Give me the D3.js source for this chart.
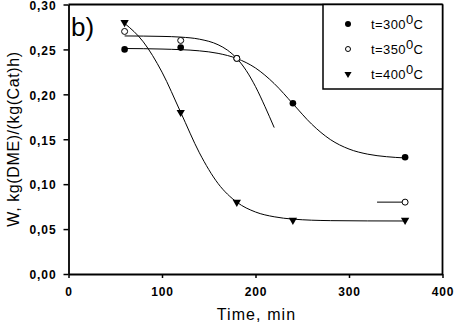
<!DOCTYPE html>
<html>
<head>
<meta charset="utf-8">
<script src="https://cdn.jsdelivr.net/npm/d3@7"></script>
<style>
  body { margin: 0; background: #fff; }
  text { font-family: "Liberation Sans", Arial, sans-serif; fill: #000; }
</style>
</head>
<body>
<div id="chart"></div>
<script>
// measured points
var times = [60, 120, 180, 240, 360];
var w300 = [0.25, 0.252, 0.24, 0.19, 0.13];
var t350 = [60, 120, 180, 360];
var w350 = [0.27, 0.26, 0.24, 0.08];
var w400 = [0.28, 0.18, 0.08, 0.06, 0.06];

// fitted curves
var fit300x = [60, 100, 140, 160, 180, 200, 220, 240, 260, 280, 300, 320, 340, 360];
var fit300y = [0.251, 0.2504, 0.2484, 0.2456, 0.2399, 0.2293, 0.212, 0.1895, 0.1669, 0.1497, 0.1391, 0.1334, 0.1306, 0.1292];
var fit350x = [60, 100, 120, 140, 160, 170, 180, 190, 200, 210, 220];
var fit350y = [0.265, 0.2645, 0.2637, 0.2614, 0.2552, 0.2492, 0.240, 0.2266, 0.2086, 0.1867, 0.163];
var fit400x = [60, 80, 100, 120, 140, 160, 180, 200, 220, 240, 280, 320, 360];
var fit400y = [0.279, 0.2584, 0.2247, 0.180, 0.1349, 0.1007, 0.080, 0.069, 0.0637, 0.0611, 0.0594, 0.0591, 0.059];
var seg350x = [330, 360];
var seg350y = [0.08, 0.08];

var xTicks = [0, 100, 200, 300, 400];
var yTicks = [0, 0.05, 0.10, 0.15, 0.20, 0.25, 0.30];
var legendLabels = ["t=300", "t=350", "t=400"];

var width = 455, height = 332;
var margin = {top: 4.5, right: 12.5, bottom: 58, left: 68.5};

var svg = d3.select("#chart").append("svg")
    .attr("width", width)
    .attr("height", height);

var x = d3.scaleLinear().domain([0, 400]).range([margin.left, width - margin.right]);
var y = d3.scaleLinear().domain([0, 0.3]).range([height - margin.bottom, margin.top]);

var comma = function(d) { return d3.format(".2f")(d).replace(".", ","); };

// axes
var xAxis = svg.append("g")
    .attr("transform", "translate(0," + y(0) + ")")
    .call(d3.axisBottom(x).tickValues(xTicks).tickSize(4).tickSizeOuter(0).tickPadding(9));
var yAxis = svg.append("g")
    .attr("transform", "translate(" + x(0) + ",0)")
    .call(d3.axisLeft(y).tickValues(yTicks).tickFormat(comma).tickSize(5).tickSizeOuter(0).tickPadding(7));

[xAxis, yAxis].forEach(function(a) {
    a.select(".domain").attr("stroke", "#000").attr("stroke-width", 1.8);
    a.selectAll(".tick line").attr("stroke", "#000").attr("stroke-width", 1.5);
    a.selectAll(".tick text")
        .style("font-family", "'Liberation Sans', Arial, sans-serif")
        .style("font-size", "12px")
        .style("font-weight", "bold")
        .style("letter-spacing", "0.9px")
        .attr("fill", "#000");
});
yAxis.selectAll(".tick text").attr("dy", "0.4em");

// top and right frame
svg.append("line")
    .attr("x1", x(0)).attr("x2", x(400))
    .attr("y1", y(0.3)).attr("y2", y(0.3))
    .attr("stroke", "#000").attr("stroke-width", 1.8);
svg.append("line")
    .attr("x1", x(400)).attr("x2", x(400))
    .attr("y1", y(0.3)).attr("y2", y(0))
    .attr("stroke", "#000").attr("stroke-width", 1.8);

// curves
var line = d3.line()
    .x(function(d) { return x(d[0]); })
    .y(function(d) { return y(d[1]); })
    .curve(d3.curveMonotoneX);

var curves = [
    d3.zip(fit300x, fit300y),
    d3.zip(fit350x, fit350y),
    d3.zip(fit400x, fit400y),
    d3.zip(seg350x, seg350y)
];
svg.append("g").selectAll("path")
    .data(curves)
    .enter().append("path")
    .attr("d", line)
    .attr("fill", "none")
    .attr("stroke", "#000")
    .attr("stroke-width", 1);

// markers
var tri = d3.symbol().type(d3.symbolTriangle).size(30);

svg.append("g").selectAll("circle")
    .data(d3.zip(times, w300))
    .enter().append("circle")
    .attr("cx", function(d) { return x(d[0]); })
    .attr("cy", function(d) { return y(d[1]); })
    .attr("r", 3.3)
    .attr("fill", "#000");

svg.append("g").selectAll("circle")
    .data(d3.zip(t350, w350))
    .enter().append("circle")
    .attr("cx", function(d) { return x(d[0]); })
    .attr("cy", function(d) { return y(d[1]); })
    .attr("r", 3)
    .attr("fill", "#fff")
    .attr("stroke", "#000")
    .attr("stroke-width", 1);

svg.append("g").selectAll("path")
    .data(d3.zip(times, w400))
    .enter().append("path")
    .attr("d", tri)
    .attr("transform", function(d) { return "translate(" + x(d[0]) + "," + y(d[1]) + ") rotate(180)"; })
    .attr("fill", "#000");

// panel label
svg.append("text")
    .attr("x", 71)
    .attr("y", 36)
    .style("font-size", "26px")
    .text("b)");

// axis titles
svg.append("text")
    .attr("x", (x(0) + x(400)) / 2 + 1)
    .attr("y", 320)
    .attr("text-anchor", "middle")
    .style("font-size", "16px")
    .style("letter-spacing", "1.1px")
    .text("Time, min");

svg.append("text")
    .attr("transform", "translate(19," + 139 + ") rotate(-90)")
    .attr("text-anchor", "middle")
    .style("font-size", "16px")
    .style("letter-spacing", "0.6px")
    .text("W, kg(DME)/(kg(Cat)h)");

// legend
var lg = svg.append("g");
lg.append("rect")
    .attr("x", 323).attr("y", y(0.3))
    .attr("width", x(400) - 323).attr("height", 89 - y(0.3))
    .attr("fill", "#fff")
    .attr("stroke", "#000")
    .attr("stroke-width", 1.5);

var rowsY = [24, 49, 74];
lg.append("circle").attr("cx", 348).attr("cy", rowsY[0]).attr("r", 3).attr("fill", "#000");
lg.append("circle").attr("cx", 348).attr("cy", rowsY[1]).attr("r", 2.5)
    .attr("fill", "#fff").attr("stroke", "#000").attr("stroke-width", 1);
lg.append("path").attr("d", d3.symbol().type(d3.symbolTriangle).size(22))
    .attr("transform", "translate(348," + rowsY[2] + ") rotate(180)")
    .attr("fill", "#000");

legendLabels.forEach(function(lab, i) {
    var t = lg.append("text")
        .attr("x", 371)
        .attr("y", rowsY[i] + 5)
        .style("font-size", "13px")
        .style("letter-spacing", "0.4px");
    t.append("tspan").text(lab);
    t.append("tspan").attr("dy", -5).text("0");
    t.append("tspan").attr("dy", 5).text("C");
});
</script>
</body>
</html>
